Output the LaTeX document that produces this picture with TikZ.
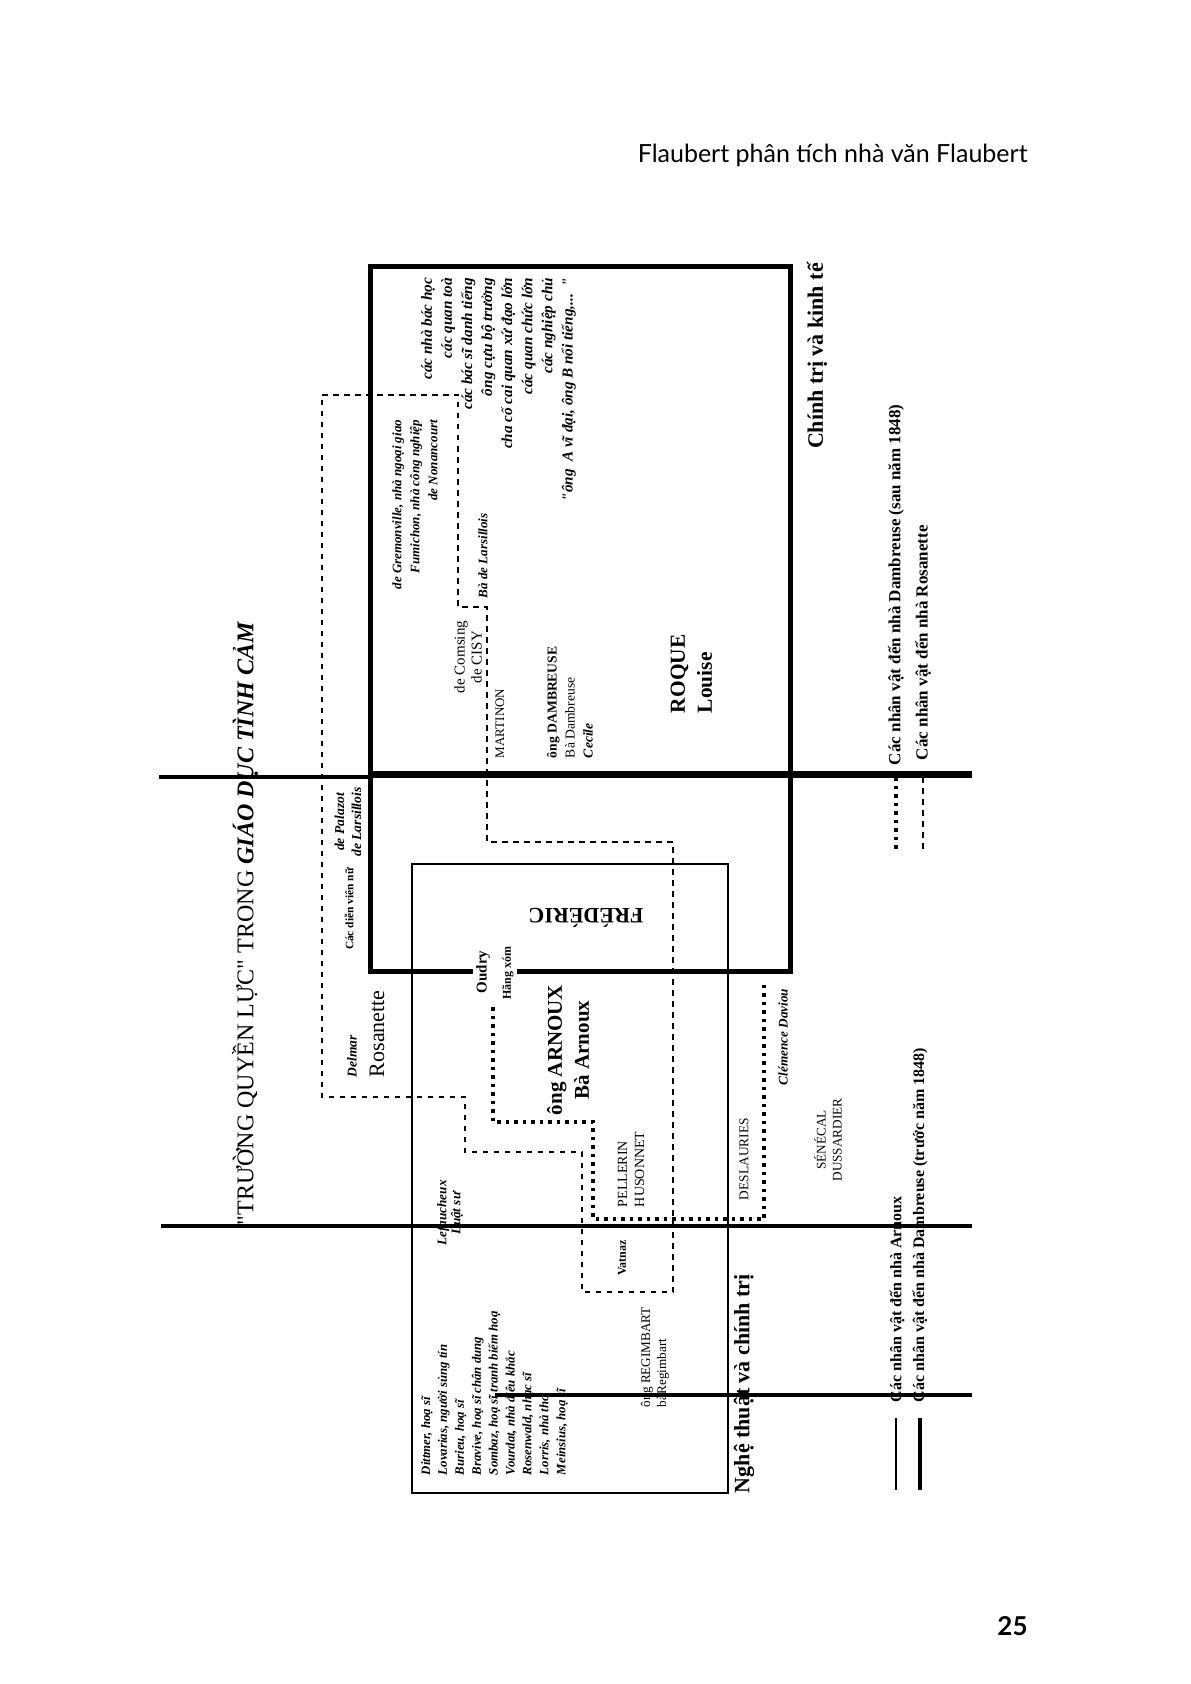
\documentclass[tikz,border=0pt]{standalone}
\usepackage{fontspec}
\setmainfont{Liberation Serif}
\newfontfamily\hdrfont{Lato}
\newcommand\myfs[2]{\fontsize{#1}{#2}\selectfont}
\newcommand\sq{{\addfontfeatures{Ligatures=TeXOff}"}}
\begin{document}
\begin{tikzpicture}[x=0.5pt,y=-0.5pt,
  vt/.style={rotate=90,inner sep=0pt,outer sep=0pt},
  boxthick/.style={line width=2.5pt,line join=miter},
  boxthin/.style={line width=1.35pt},
  fieldln/.style={line width=1.8pt},
  rosa/.style={line width=1.25pt,dash pattern=on 2.75pt off 2.75pt},
  dambpost/.style={line width=1.75pt,dash pattern=on 1.75pt off 2.5pt},
]
\fill[white] (0,0) rectangle (1190,1684);
\useasboundingbox (0,0) rectangle (1190,1684);

% header and page number
\node[anchor=base east,inner sep=0pt,font=\hdrfont\myfs{12.5}{15}] (hdr) at (1028,163) {Flaubert phân tích nhà văn Flaubert};
\node[anchor=base east,inner sep=0pt,font=\hdrfont\bfseries\myfs{13}{15}] (pg) at (1028,1635) {25};

% field lines
\draw[line width=2.25pt] (159,777) -- (370,777);
\draw[line width=3.5pt] (370,774) -- (972,774);
\draw[fieldln] (161,1226) -- (972,1226);
\draw[fieldln] (495,1395) -- (972,1395);

% Dambreuse (before 1848) thick box, broken at Oudry
\draw[boxthick] (473,971) -- (370,971) -- (370,267) -- (790,267) -- (790,971) -- (517,971);
% Arnoux thin box
\draw[boxthin] (412,864) rectangle (728,1493);

% Rosanette dashed polygon
\draw[rosa] (322,395) -- (458,395) -- (458,607) -- (487,607) -- (487,842) -- (673,842)
  -- (673,1292) -- (582,1292) -- (582,1152) -- (465,1152) -- (465,1097) -- (322,1097) -- cycle;
% Dambreuse after 1848 dotted path
\draw[dambpost] (493,1007) -- (493,1122) -- (593,1122) -- (593,1219) -- (764,1219) -- (764,983);

% title
\node[vt,font=\myfs{12}{14}] (title) at (245,924) {\sq TRƯỜNG QUYỀN LỰC\sq\ TRONG {\bfseries\itshape GIÁO DỤC TÌNH CẢM}};

% field labels
\node[vt,anchor=west,font=\bfseries\myfs{11}{13}] (pol) at (817,449) {Chính trị và kinh tế};
\node[vt,anchor=west,font=\bfseries\myfs{11}{13}] (art) at (744,1493) {Nghệ thuật và chính trị};

% top right block
\node[vt,anchor=east,align=right,font=\bfseries\itshape\myfs{7.6}{10.05}] (notables) at (498.5,278)
 {các nhà bác học\\các quan toà\\các bác sĩ danh tiếng\\ông cựu bộ trưởng\\cha cố cai quan xứ đạo lớn\\các quan chức lớn\\các nghiệp chủ\\\sq ông\ \ A vĩ đại, ông B nổi tiếng,...\ \ \sq};
\node[vt,anchor=east,align=right,font=\bfseries\itshape\myfs{6.5}{9}] (grem) at (415,420)
 {de Gremonville, nhà ngoại giao\\Fumichon, nhà công nghiệp\\de Nonancourt};
\node[vt,anchor=west,font=\bfseries\itshape\myfs{6.5}{8}] (larsb) at (483,598) {Bà de Larsillois};
\node[vt,align=center,font=\myfs{7.5}{8.5}] (cisy) at (468,657) {de Comsing\\de CISY};
\node[vt,anchor=west,font=\myfs{6.5}{8}] (mart) at (500,758) {MARTINON};
\node[vt,anchor=west,align=left,font=\myfs{6.8}{9}] (damb) at (570,758)
 {{\bfseries ông DAMBREUSE}\\Bà Dambreuse\\{\bfseries\itshape Cecile}};
\node[vt,anchor=west,align=left,font=\bfseries\myfs{10.7}{13.5}] (roque) at (691.5,713) {ROQUE\\Louise};

% middle
\node[rotate=180,inner sep=0pt,font=\bfseries\myfs{11}{13}] (fred) at (586,918) {FRÉDÉRIC};
\node[vt,anchor=west,font=\myfs{11}{13}] (rosan) at (377,1077) {Rosanette};
\node[vt,anchor=west,font=\bfseries\itshape\myfs{6.75}{8}] (delmar) at (352,1077) {Delmar};
\node[vt,font=\bfseries\myfs{5.7}{7}] (actr) at (349,909) {Các diễn viên nữ};
\node[vt,align=center,font=\bfseries\itshape\myfs{6.8}{8.5}] (pala) at (348,822) {de Palazot\\de Larsillois};
\node[vt,font=\bfseries\myfs{7.5}{9}] (oudry) at (483,972) {Oudry};
\node[vt,font=\bfseries\myfs{6}{7}] (hang) at (508,973) {Hãng xóm};
\node[vt,align=center,font=\bfseries\myfs{10.5}{13.5}] (arnoux) at (568,1050) {ông ARNOUX\\Bà Arnoux};
\node[vt,anchor=west,align=left,font=\myfs{7}{8.5}] (pell) at (631,1207) {PELLERIN\\HUSONNET};
\node[vt,font=\bfseries\myfs{6}{7}] (vatnaz) at (622,1258) {Vatnaz};
\node[vt,anchor=west,align=left,font=\myfs{6.6}{8}] (regim) at (655,1407) {ông REGIMBART\\bàRegimbart};
\node[vt,align=center,font=\bfseries\itshape\myfs{6.6}{7}] (lefau) at (450,1213) {Lefaucheux\\Luật sư};
\node[vt,anchor=west,align=left,font=\bfseries\itshape\myfs{6.4}{8.45}] (artists) at (494.5,1475)
 {Dittmer, hoạ sĩ\\Lovarias, người sùng tín\\Burieu, hoạ sĩ\\Bravive, hoạ sĩ chân dung\\Sombaz, hoạ sĩ tranh biếm hoạ\\Vourdat, nhà điêu khắc\\Rosenwald, nhạc sĩ\\Lorris, nhà thơ\\Meinsius, hoạ sĩ};
\node[vt,anchor=west,font=\myfs{6.7}{8}] (desl) at (744,1200) {DESLAURIES};
\node[vt,font=\bfseries\itshape\myfs{6.6}{8}] (clem) at (783,1037) {Clémence Daviou};
\node[vt,align=center,font=\myfs{6.6}{8}] (sene) at (828,1140) {SÉNÉCAL\\DUSSARDIER};

% legend
\draw[dambpost] (896,777) -- (896,850);
\draw[rosa] (923,777) -- (923,850);
\draw[line width=1pt] (896,1418) -- (896,1490);
\draw[line width=2pt] (920,1418) -- (920,1490);
\node[vt,anchor=west,font=\bfseries\myfs{8.5}{9}] (legdp) at (896,765) {Các nhân vật đến nhà Dambreuse (sau năm 1848)};
\node[vt,anchor=west,font=\bfseries\myfs{8.5}{9}] (legro) at (923,760) {Các nhân vật đến nhà Rosanette};
\node[vt,anchor=west,font=\bfseries\myfs{8}{9}] (legar) at (897,1402) {Các nhân vật đến nhà Arnoux};
\node[vt,anchor=west,font=\bfseries\myfs{8}{9}] (legdb) at (920,1402) {Các nhân vật đến nhà Dambreuse (trước năm 1848)};
\end{tikzpicture}
\end{document}
